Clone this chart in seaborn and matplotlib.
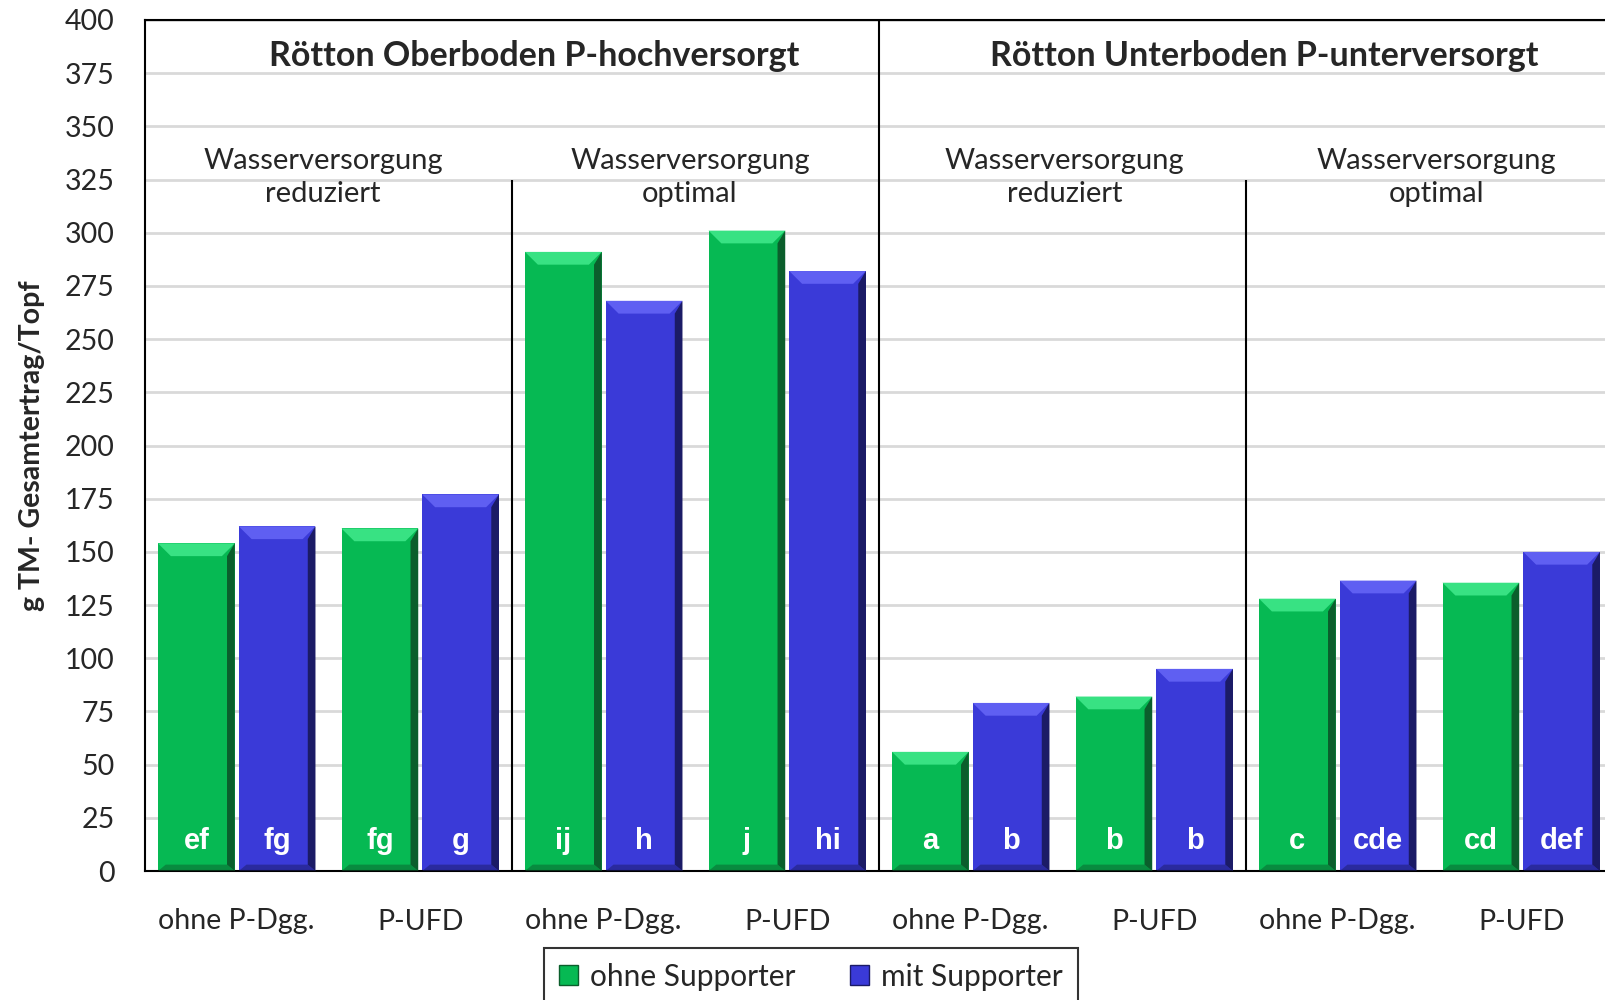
import pandas as pd
import matplotlib
matplotlib.use("Agg")
import matplotlib.pyplot as plt
from matplotlib.patches import Polygon, Patch
import seaborn as sns

# data
groups = ["O-red-ohne", "O-red-UFD", "O-opt-ohne", "O-opt-UFD",
          "U-red-ohne", "U-red-UFD", "U-opt-ohne", "U-opt-UFD"]
fert_labels = ["ohne P-Dgg.", "P-UFD"] * 4
ohne_supporter = [154, 161, 291, 301, 56, 82, 128, 135.5]
mit_supporter = [162, 177, 268, 282, 79, 95, 136.5, 150]
letters_ohne = ["ef", "fg", "ij", "j", "a", "b", "c", "cd"]
letters_mit = ["fg", "g", "h", "hi", "b", "b", "cde", "def"]
soil_titles = ["Rötton Oberboden P-hochversorgt", "Rötton Unterboden P-unterversorgt"]
water_titles = ["Wasserversorgung\nreduziert", "Wasserversorgung\noptimal",
                "Wasserversorgung\nreduziert", "Wasserversorgung\noptimal"]
series = ["ohne Supporter", "mit Supporter"]

df = pd.DataFrame({
    "group": groups * 2,
    "value": ohne_supporter + mit_supporter,
    "supporter": [series[0]] * 8 + [series[1]] * 8,
    "letter": letters_ohne + letters_mit,
})

GREEN = "#06B953"
BLUE = "#3A3AD8"
colors = {series[0]: GREEN, series[1]: BLUE}
light = {GREEN: "#38E283", BLUE: "#5F5FF2"}
dark = {GREEN: "#0B5E2C", BLUE: "#1B1B66"}

sns.set_style("white")
plt.rcParams["font.family"] = ["Lato", "DejaVu Sans"]

fig = plt.figure(figsize=(16.06, 10), dpi=100)
ax = fig.add_axes([145 / 1606, 0.129, 1468 / 1606, 0.851])

# grid under the bars
ax.set_axisbelow(True)
ax.yaxis.grid(True, color="#D9D9D9", linewidth=2)

sns.barplot(data=df, x="group", y="value", hue="supporter", order=groups,
            hue_order=series, palette=colors, width=0.88, gap=0.05,
            saturation=1, legend=False, ax=ax, zorder=2)

ax.set_xlim(-0.5, 7.5)
ax.set_ylim(0, 400)
ax.set_yticks(range(0, 401, 25))
ax.tick_params(axis="y", length=0, labelsize=20.5, pad=22)

# bevel look + letters inside the bars
dx, dy = 0.07, 6
bars = [p for p in ax.patches if p.get_height() > 0]
for p in bars:
    x0, w, h = p.get_x(), p.get_width(), p.get_height()
    fc = GREEN if abs(p.get_facecolor()[1] - 0.725) < 0.05 else BLUE
    p.set_edgecolor("none")
    x1 = x0 + w
    ax.add_patch(Polygon([(x0, h), (x1, h), (x1 - dx, h - dy), (x0 + dx, h - dy)],
                         closed=True, facecolor=light[fc], edgecolor="none", zorder=3))
    ax.add_patch(Polygon([(x1, h), (x1, 0), (x1 - dx * 0.6, dy * 0.5), (x1 - dx * 0.6, h - dy)],
                         closed=True, facecolor=dark[fc], edgecolor="none", zorder=3))
    ax.add_patch(Polygon([(x0, 0), (x1, 0), (x1 - dx * 0.6, dy * 0.5), (x0 + dx * 0.6, dy * 0.5)],
                         closed=True, facecolor=dark[fc], alpha=0.5, edgecolor="none", zorder=3))

for p, let in zip(bars, df["letter"]):
    ax.text(p.get_x() + p.get_width() / 2, 14, let, ha="center", va="center",
            color="white", fontsize=21, fontweight="bold",
            family=["Liberation Sans", "DejaVu Sans"], zorder=4)

# x ticks: boundaries as tick marks, labels centred under groups
ax.set_xticks([-0.5, 1.5, 3.5, 5.5, 7.5])
ax.set_xticklabels([])
ax.set_xticks(range(8), minor=True)
ax.set_xticklabels(fert_labels, minor=True)
ax.tick_params(axis="x", which="major", direction="out", length=9, width=1.5, color="black")
ax.tick_params(axis="x", which="minor", length=0, labelsize=20.5, pad=27)
ax.set_xlabel("")

ax.set_ylabel("g TM- Gesamtertrag/Topf", fontsize=20.5, fontweight="bold", labelpad=14)

for side in ["left", "top", "bottom"]:
    ax.spines[side].set_visible(True)
    ax.spines[side].set_color("black")
    ax.spines[side].set_linewidth(1.5)
ax.spines["right"].set_visible(False)

# section separators
ax.axvline(3.5, color="black", linewidth=1.5, zorder=5)
ax.vlines([1.5, 5.5], 0, 325, color="black", linewidth=1.5, zorder=5)

# titles
for xpos, t in zip([1.62, 5.6], soil_titles):
    ax.text(xpos, 383, t, ha="center", va="center", fontsize=24.5, fontweight="bold")
for xpos, t in zip([0.47, 2.47, 4.51, 6.54], water_titles):
    ax.text(xpos, 326, t, ha="center", va="center", fontsize=21, linespacing=1.3)

handles = [Patch(facecolor=GREEN, edgecolor=dark[GREEN]),
           Patch(facecolor=BLUE, edgecolor=dark[BLUE])]
leg = fig.legend(handles, series, loc="upper left", bbox_to_anchor=(544 / 1606, 0.052),
                 ncol=2, fontsize=21.5, frameon=True, fancybox=False, edgecolor="black",
                 handlelength=0.65, handleheight=0.65, handletextpad=0.4,
                 columnspacing=1.8, borderpad=0.5, borderaxespad=0)
leg.get_frame().set_linewidth(1.5)

fig.savefig("out.png", dpi=100)
